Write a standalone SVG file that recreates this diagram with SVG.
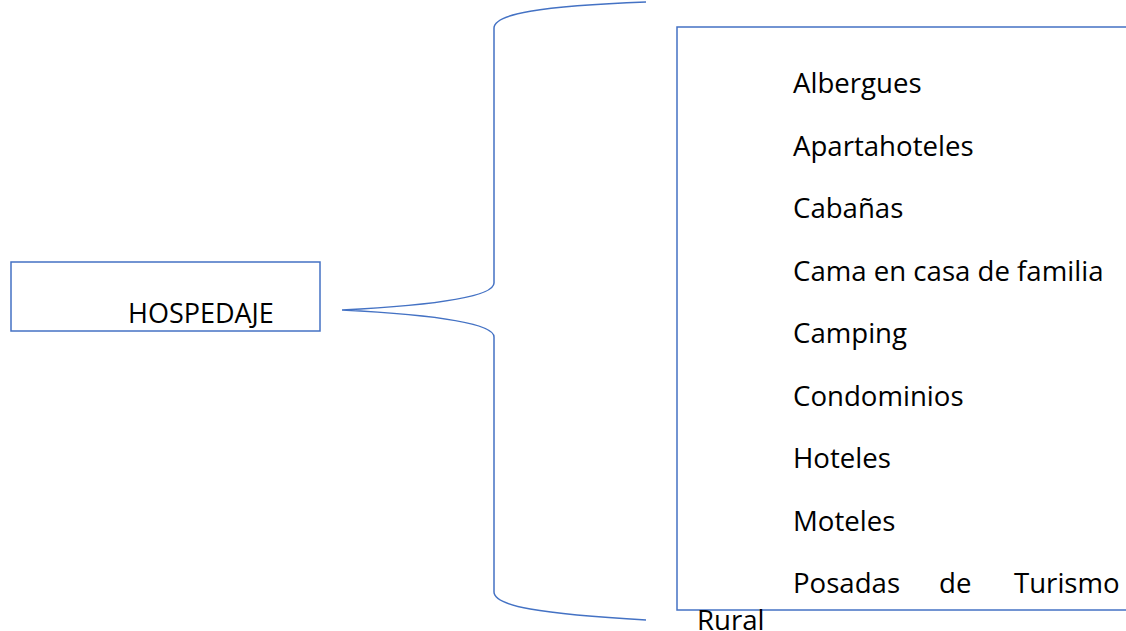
<svg xmlns="http://www.w3.org/2000/svg" width="1126" height="631" viewBox="0 0 1126 631">
<style>
.box{fill:#fff;stroke:#4472C4;stroke-width:1.5}
.con{fill:none;stroke:#4472C4;stroke-width:1.5}
text{font-family:"Open Sans","Liberation Sans",sans-serif;font-size:27.6px;fill:#000}
</style>
<rect width="1126" height="631" fill="#fff"/>
<g id="connectors">
<path class="con" d="M646,2 C540,6 494,14 494,28 L494,283 C494,300 400,307 342,310 C400,313 494,320 494,337 L494,592 C494,606 540,614 646,620"/>
</g>
<g id="hospedaje">
<rect class="box" x="11" y="262" width="309" height="69"/>
<text x="128" y="323" font-size="27px" style="font-size:27px">HOSPEDAJE</text>
</g>
<g id="lista">
<rect class="box" x="677" y="27" width="460" height="583"/>
<text x="793" y="93">Albergues</text>
<text x="793" y="155.5">Apartahoteles</text>
<text x="793" y="218">Cabañas</text>
<text x="793" y="280.5">Cama en casa de familia</text>
<text x="793" y="343">Camping</text>
<text x="793" y="405.5">Condominios</text>
<text x="793" y="468">Hoteles</text>
<text x="793" y="530.5">Moteles</text>
<text y="593"><tspan x="793">Posadas</tspan><tspan x="939">de</tspan><tspan x="1014">Turismo</tspan></text>
<text x="697" y="630">Rural</text>
</g>
</svg>
